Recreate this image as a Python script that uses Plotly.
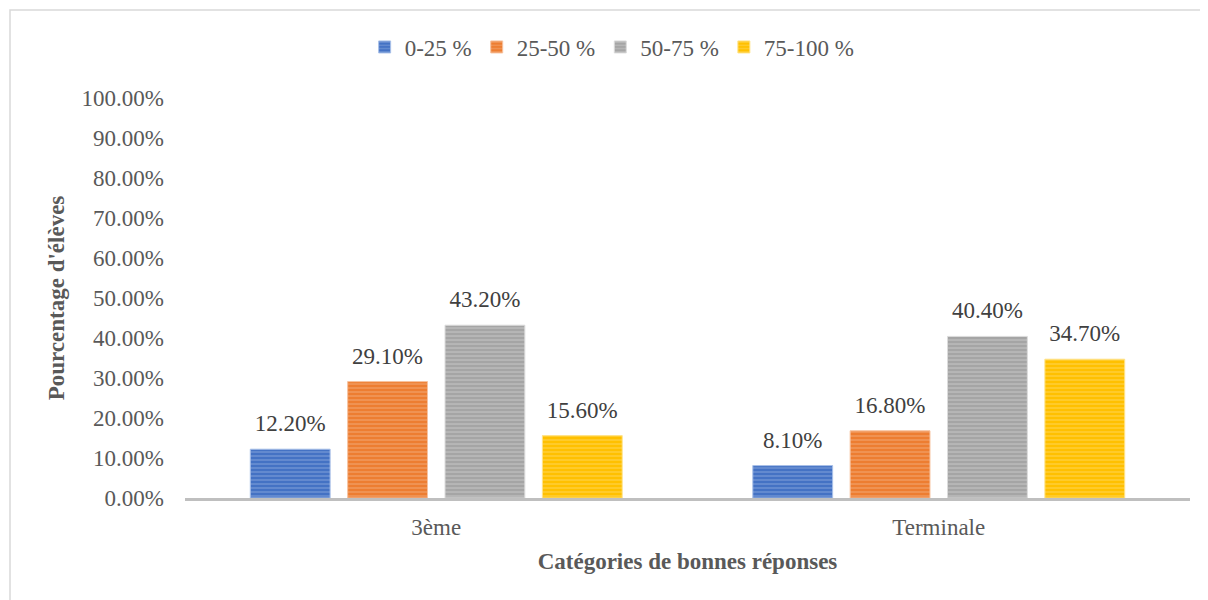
import plotly.graph_objects as go

categories = ["3ème", "Terminale"]
series_names = ["0-25 %", "25-50 %", "50-75 %", "75-100 %"]
values_0_25 = [12.2, 8.1]
values_25_50 = [29.1, 16.8]
values_50_75 = [43.2, 40.4]
values_75_100 = [15.6, 34.7]
tick_values = [0, 10, 20, 30, 40, 50, 60, 70, 80, 90, 100]

series_values = [values_0_25, values_25_50, values_50_75, values_75_100]
colors = ["#4472C4", "#ED7D31", "#A5A5A5", "#FFC000"]
light = ["#A9C0E8", "#F7C3A0", "#DCDCDC", "#FFE38A"]

font_family = "Liberation Serif, Times New Roman, serif"
FS = 23
BARGAP = 0.225

fig = go.Figure()
for name, vals, c, lc in zip(series_names, series_values, colors, light):
    fig.add_trace(go.Bar(
        x=categories, y=vals, name=name,
        marker=dict(color=c, line=dict(color=lc, width=1),
                    pattern=dict(shape="-", fgcolor=lc, bgcolor=c, size=4, solidity=0.3)),
    ))
# data labels as grouped text-only scatter traces (aligned with bar slots)
for name, vals in zip(series_names, series_values):
    fig.add_trace(go.Scatter(
        x=categories, y=vals, mode="markers+text", showlegend=False, hoverinfo="skip",
        marker=dict(size=18, opacity=0),
        text=[f"{v:.2f}%" for v in vals], textposition="top center",
        textfont=dict(family=font_family, size=FS, color="#404040"),
        cliponaxis=False,
    ))

fig.update_layout(
    width=1208, height=600,
    margin=dict(l=177, r=26, t=90, b=110),
    paper_bgcolor="white", plot_bgcolor="white",
    barmode="group", bargap=BARGAP, bargroupgap=0.18,
    scattermode="group", scattergap=BARGAP,
    font=dict(family=font_family, size=FS, color="#595959"),
    legend=dict(orientation="h", x=0.425, xanchor="center", y=(498 - 47) / 400, yanchor="middle",
                bgcolor="rgba(0,0,0,0)",
                font=dict(family=font_family, size=FS, color="#595959"),
                itemwidth=30, traceorder="normal"),
    showlegend=True,
)
fig.update_yaxes(
    range=[0, 100], tickvals=tick_values,
    ticktext=[f"{v:.2f}%" for v in tick_values],
    showgrid=False, zeroline=False, showline=False, ticks="",
    ticklabelstandoff=20,
    tickfont=dict(family=font_family, size=FS, color="#595959"),
    title=dict(text="<b>Pourcentage d'élèves</b>", standoff=10,
               font=dict(family=font_family, size=FS, color="#595959")),
)
fig.update_xaxes(
    showline=True, linecolor="#BFBFBF", linewidth=3, showgrid=False, ticks="",
    ticklabelstandoff=6,
    tickfont=dict(family=font_family, size=FS, color="#595959"),
    title=dict(text="<b>Catégories de bonnes réponses</b>", standoff=15,
               font=dict(family=font_family, size=FS, color="#595959")),
)
fig.add_shape(type="rect", xref="paper", yref="paper",
              x0=(10 - 185) / 1005, x1=1.1, y0=-0.5, y1=(498 - 10) / 400,
              line=dict(color="#D9D9D9", width=1.5), fillcolor="rgba(0,0,0,0)", layer="below")

fig.write_html("out.html")
